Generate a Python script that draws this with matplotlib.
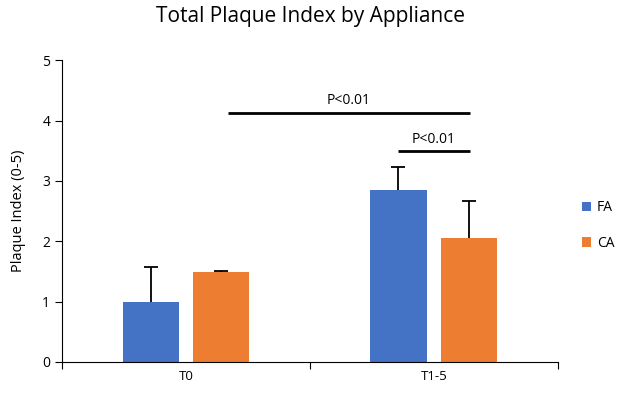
import matplotlib.pyplot as plt
import numpy as np

plt.rcParams['font.family'] = ['Open Sans', 'DejaVu Sans']

# datos
categorias = ["T0", "T1-5"]
series = ["FA", "CA"]
fa = [1.0, 2.85]
ca = [1.49, 2.05]
fa_err = [0.58, 0.38]
ca_err = [0.02, 0.62]
colores = ["#4472C4", "#ED7D31"]

# lineas de significancia: (x inicio, x fin, altura, texto)
sig_x0 = [0.67, 1.355]
sig_x1 = [1.645, 1.645]
sig_y = [4.12, 3.49]
sig_txt = ["P<0.01", "P<0.01"]

fig = plt.figure(figsize=(6.22, 3.96), dpi=100)
ax = fig.add_axes([0.0997, 0.0859, 0.7973, 0.7621])

x = np.arange(len(categorias)) + 0.5
w = 0.226
off = 0.143
for i, (vals, errs) in enumerate([(fa, fa_err), (ca, ca_err)]):
    pos = x + (off if i else -off)
    top = np.array(vals) + np.array(errs)
    ax.bar(pos, vals, width=w, color=colores[i], label=series[i], zorder=2)
    # solo la mitad superior del error, como en Excel
    ax.vlines(pos, vals, top, color="black", lw=1.3, zorder=3)
    ax.plot(pos, top, ls="none", marker="_", ms=10, mew=1.3, color="black", zorder=3)

for x0, x1, y, t in zip(sig_x0, sig_x1, sig_y, sig_txt):
    ax.plot([x0, x1], [y, y], color="black", lw=2, solid_capstyle="butt")
    ax.text((x0 + x1) / 2, y + 0.08, t, ha="center", va="bottom", fontsize=10)

ax.set_xlim(0, 2)
ax.set_ylim(0, 5)
ax.set_xticks([0, 1, 2])
ax.set_xticklabels([])
ax.set_xticks(x, minor=True)
ax.set_xticklabels(categorias, minor=True, fontsize=9.5)
ax.tick_params(axis="x", which="minor", length=0, pad=6)
ax.tick_params(axis="x", which="major", length=5, direction="out")
ax.set_yticks(range(6))
ax.tick_params(axis="y", labelsize=10, length=5, direction="out")
ax.spines["top"].set_visible(False)
ax.spines["right"].set_visible(False)
ax.set_ylabel("Plaque Index (0-5)", fontsize=10.5, labelpad=12)

fig.suptitle("Total Plaque Index by Appliance", fontsize=15, x=0.5, y=0.985)
fig.legend(loc="center left", bbox_to_anchor=(0.915, 0.43), frameon=False,
           fontsize=10, handlelength=0.7, handleheight=0.7, labelspacing=1.5,
           handletextpad=0.4)

fig.savefig("out.png", dpi=100)
